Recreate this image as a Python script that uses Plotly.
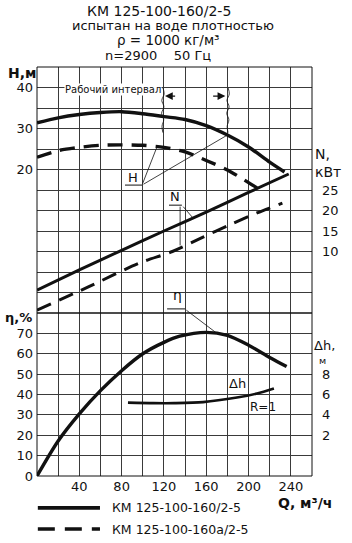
import numpy as np
import plotly.graph_objects as go

# ---------------- data ----------------
# Head H, m (main pump, solid)
q_h_main = [0, 20, 40, 60, 80, 100, 120, 140, 160, 180, 200, 220, 234]
h_main = [31.4, 32.6, 33.4, 33.9, 34.1, 33.6, 32.9, 32.2, 30.7, 28.4, 25.5, 21.8, 19.4]
# Head H, m (trimmed impeller "а", dashed)
q_h_a = [0, 20, 40, 60, 80, 100, 120, 140, 160, 180, 200, 208]
h_a = [23.0, 24.6, 25.4, 25.9, 26.0, 25.9, 25.4, 24.3, 22.2, 19.9, 16.8, 15.5]
# Power N, kW
q_n_main = [0, 40, 80, 120, 160, 200, 238]
n_main = [0.6, 5.5, 10.3, 15.0, 19.6, 24.4, 28.9]
q_n_a = [0, 48, 97, 128, 157, 182, 208, 232]
n_a = [-4.3, 1.3, 7.2, 10.0, 13.5, 16.5, 19.4, 21.8]
# Efficiency, %
q_eta = [0, 20, 40, 60, 80, 100, 120, 135, 160, 180, 200, 220, 236]
eta = [0, 17.2, 30.5, 41.9, 51.7, 60.0, 65.6, 68.6, 70.5, 69.0, 64.2, 58.2, 53.7]
# NPSH dh, m
q_dh = [86, 110, 130, 157, 189, 208, 224]
dh = [5.2, 5.15, 5.15, 5.25, 5.7, 6.1, 6.6]

# working interval bounds (Q, m3/h)
work_q = [119, 180.6]

# axis ticks
q_tick_vals = list(range(0, 261, 20))
q_tick_text = [str(v) if v % 40 == 0 and v > 0 else "" for v in q_tick_vals]
h_tick_vals = list(range(-15, 46, 5))
h_tick_text = [str(v) if v in (20, 30, 40) else "" for v in h_tick_vals]
n_tick_vals = [10, 15, 20, 25]
eta_tick_vals = list(range(0, 81, 10))
eta_tick_text = [str(v) if v < 80 else "" for v in eta_tick_vals]
dh_tick_vals = [2, 4, 6, 8]

title_lines = ["КМ 125-100-160/2-5", "испытан на воде плотностью",
               "ρ = 1000 кг/м³", "n=2900\u00a0\u00a0\u00a0\u00a050 Гц"]
legend_names = ["КМ 125-100-160/2-5", "КМ 125-100-160а/2-5"]

FONT = "DejaVu Sans"
BLACK = "#111111"
GRID = "#3a3a3a"

fig = go.Figure()

def curve(x, y, yaxis, dash="solid", width=3.4):
    fig.add_trace(go.Scatter(x=x, y=y, yaxis=yaxis, xaxis="x", mode="lines",
                             line=dict(color=BLACK, width=width, dash=dash, shape="spline", smoothing=0.8),
                             showlegend=False, hoverinfo="skip"))

DASH = "15px,9px"
curve(q_h_main, h_main, "y")
curve(q_h_a, h_a, "y", DASH)
curve(q_n_main, n_main, "y2", width=3.0)
curve(q_n_a, n_a, "y2", DASH, width=3.0)
curve(q_eta, eta, "y3", width=3.4)
curve(q_dh, dh, "y4", width=2.6)

# wavy working interval lines
wig = [0, 1.2, -1.0, 1.0, -1.2, 0.8, -0.8, 0]
wy_top, wy_bot = 40.0, 29.0
wy = list(np.linspace(wy_top, wy_bot, len(wig)))
for qb in work_q:
    fig.add_trace(go.Scatter(x=[qb + w for w in wig], y=wy, yaxis="y", mode="lines",
                             line=dict(color=BLACK, width=0.8, shape="spline"),
                             showlegend=False, hoverinfo="skip"))

annotations = []
shapes = []

# titles
title_specs = [(0.444, 1.137, 14), (0.496, 1.1015, 13), (0.478, 1.066, 13.5), (0.44, 1.029, 13)]
for txt, (xp, yp, fs) in zip(title_lines, title_specs):
    annotations.append(dict(text=txt, x=xp, y=yp, xref="paper", yref="paper", showarrow=False,
                            xanchor="center", yanchor="middle", borderpad=0,
                            font=dict(size=fs, color=BLACK, family=FONT)))

# axis titles
def ptext(txt, x, y, size, bold=False, xanchor="center"):
    annotations.append(dict(text=("<b>%s</b>" % txt) if bold else txt, x=x, y=y, xref="paper", yref="paper",
                            showarrow=False, xanchor=xanchor, yanchor="middle", borderpad=0,
                            font=dict(size=size, color=BLACK, family=FONT)))

ptext("H,м", -0.0545, 0.985, 14, bold=True)
ptext("η,%", -0.066, 0.387, 13, bold=True)
ptext("N,", 1.008, 0.787, 14, xanchor="left")
ptext("кВт", 1.008, 0.743, 14, xanchor="left")
ptext("Δh,", 1.004, 0.318, 13, xanchor="left")
ptext("м", 1.02, 0.283, 9.5, xanchor="left")
ptext("Q, м³/ч", 0.975, -0.066, 14, bold=True)

# legend
leg_y = [-0.078, -0.1296]
leg_dash = ["solid", "17px,10px"]
for name, ly, ds in zip(legend_names, leg_y, leg_dash):
    shapes.append(dict(type="line", xref="paper", yref="paper", x0=0.003, x1=0.229, y0=ly, y1=ly,
                       line=dict(color=BLACK, width=3.6, dash=ds)))
    annotations.append(dict(text=name, x=0.2655, y=ly, xref="paper", yref="paper", showarrow=False,
                            xanchor="left", yanchor="middle", font=dict(size=12.5, color=BLACK, family=FONT)))

# working interval text + arrows
annotations.append(dict(text="Рабочий интервал", x=72.3, y=39.6, xref="x", yref="y", showarrow=False,
                        bgcolor="white", borderpad=0, font=dict(size=10, color=BLACK, family=FONT)))
arr_y = 37.9
annotations.append(dict(text="", x=work_q[0] + 2, y=arr_y, ax=work_q[0] + 13, ay=arr_y, xref="x", yref="y",
                        axref="x", ayref="y", showarrow=True, arrowhead=2, arrowsize=1.3, arrowwidth=1.2,
                        arrowcolor=BLACK))
annotations.append(dict(text="", x=work_q[1] - 2.5, y=arr_y, ax=work_q[1] - 15.5, ay=arr_y, xref="x", yref="y",
                        axref="x", ayref="y", showarrow=True, arrowhead=2, arrowsize=1.3, arrowwidth=1.2,
                        arrowcolor=BLACK))

def leader(x_head, y_head, x_tail, y_tail, yref):
    annotations.append(dict(text="", x=x_head, y=y_head, ax=x_tail, ay=y_tail, xref="x", yref=yref,
                            axref="x", ayref=yref, showarrow=True, arrowhead=0, arrowwidth=0.8,
                            arrowcolor=BLACK))

def label(txt, x, y, yref, size):
    annotations.append(dict(text=txt, x=x, y=y, xref="x", yref=yref, showarrow=False,
                            font=dict(size=size, color=BLACK, family=FONT)))

def underline(x0, x1, y, yref):
    shapes.append(dict(type="line", xref="x", yref=yref, x0=x0, x1=x1, y0=y, y1=y,
                       line=dict(color=BLACK, width=1)))

# H label
label("H", 90.8, 18.0, "y", 13)
underline(83.2, 99.3, 16.2, "y")
leader(113.5, float(np.interp(113.5, q_h_a, h_a)), 99.3, 16.2, "y")
leader(180.0, float(np.interp(180.0, q_h_main, h_main)), 99.3, 16.2, "y")

# N label
label("N", 130.5, 23.3, "y2", 13)
underline(124.8, 137.0, 21.3, "y2")
leader(147.5, float(np.interp(147.5, q_n_main, n_main)), 137.0, 21.3, "y2")
leader(135.3, float(np.interp(135.3, q_n_a, n_a)) + 0.6, 135.3, 21.3, "y2")

# eta label
label("η", 132.4, -10.6, "y", 14)
underline(123.0, 140.0, -14.0, "y")
annotations.append(dict(text="", x=171.0, y=float(np.interp(171.0, q_eta, eta)), xref="x", yref="y3",
                        ax=-33, ay=-25, showarrow=True, arrowhead=0, arrowwidth=0.8, arrowcolor=BLACK))

# dh labels
label("Δh", 189.6, 7.1, "y4", 13)
label("R=1", 214.1, 4.8, "y4", 12)

# panel frames
for yd in ("y", "y3"):
    shapes.append(dict(type="rect", xref="x domain", yref=yd + " domain", x0=0, x1=1, y0=0, y1=1,
                       line=dict(color=BLACK, width=1)))

split = 163 / 409
tickfont = dict(size=13, color=BLACK, family=FONT)
fig.update_layout(
    width=352, height=543, autosize=False,
    margin=dict(l=37, r=40, t=67, b=67),
    paper_bgcolor="white", plot_bgcolor="white",
    font=dict(family=FONT, color=BLACK),
    showlegend=False,
    xaxis=dict(domain=[0, 1], anchor="y3", range=[0, 260], tickmode="array", tickvals=q_tick_vals,
               ticktext=q_tick_text, showgrid=True, gridcolor=GRID, gridwidth=1, zeroline=False,
               tickfont=tickfont, ticks="", ticklabelstandoff=1),
    yaxis=dict(domain=[split, 1], anchor="x", range=[-15, 45], tickmode="array", tickvals=h_tick_vals,
               ticktext=h_tick_text, showgrid=True, gridcolor=GRID, gridwidth=1, zeroline=False,
               tickfont=tickfont, ticks="", ticklabelstandoff=3),
    yaxis2=dict(overlaying="y", side="right", anchor="x", range=[-5, 55], tickmode="array",
                tickvals=n_tick_vals, showgrid=False, zeroline=False, tickfont=tickfont, ticks="",
                ticklabelstandoff=9),
    yaxis3=dict(domain=[0, split], anchor="x", range=[0, 80], tickmode="array", tickvals=eta_tick_vals,
                ticktext=eta_tick_text, showgrid=True, gridcolor=GRID, gridwidth=1, zeroline=False,
                tickfont=tickfont, ticks="", ticklabelstandoff=3),
    yaxis4=dict(overlaying="y3", side="right", anchor="x", range=[-2, 14], tickmode="array",
                tickvals=dh_tick_vals, showgrid=False, zeroline=False, tickfont=tickfont, ticks="",
                ticklabelstandoff=9),
    annotations=annotations,
    shapes=shapes,
)

fig.write_html("out.html")
